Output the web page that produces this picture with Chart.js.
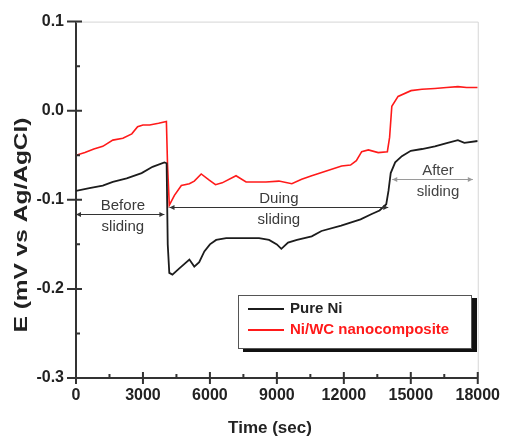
<!DOCTYPE html>
<html>
<head>
<meta charset="utf-8">
<script src="https://cdn.jsdelivr.net/npm/chart.js@4/dist/chart.umd.min.js"></script>
<style>
  body { margin: 0; background: #fff; }
  #wrap { width: 508px; height: 441px; position: relative; }
</style>
</head>
<body>
<div id="wrap"><canvas id="potChart"></canvas></div>
<script>
// Pure Ni (black)
const niTime = [0, 600, 1200, 1650, 2270, 2940, 3430, 3960, 4060, 4110, 4180, 4320, 4630, 5080, 5300, 5520, 5750, 6000, 6280, 6730, 7620, 8200, 8650, 9000, 9200, 9500, 9900, 10560, 11000, 11880, 12750, 13250, 13600, 13900, 14000, 14100, 14300, 14600, 15000, 15500, 16080, 16650, 17110, 17400, 18000];
const niE = [-0.090, -0.087, -0.084, -0.080, -0.076, -0.070, -0.063, -0.058, -0.059, -0.150, -0.182, -0.184, -0.177, -0.167, -0.175, -0.170, -0.158, -0.150, -0.145, -0.143, -0.143, -0.143, -0.145, -0.150, -0.155, -0.148, -0.145, -0.141, -0.135, -0.129, -0.122, -0.116, -0.112, -0.105, -0.090, -0.070, -0.058, -0.051, -0.045, -0.043, -0.040, -0.036, -0.033, -0.036, -0.034];

// Ni/WC nanocomposite (red)
const compTime = [0, 400, 800, 1200, 1650, 2100, 2500, 2760, 3000, 3300, 3700, 4050, 4100, 4180, 4410, 4720, 5080, 5300, 5610, 5970, 6250, 6550, 7170, 7620, 8510, 9090, 9670, 10110, 10560, 11180, 11900, 12300, 12560, 12800, 13100, 13540, 13950, 14050, 14150, 14430, 15010, 15500, 16080, 16600, 17110, 17500, 18000];
const compE = [-0.050, -0.047, -0.043, -0.040, -0.033, -0.031, -0.026, -0.018, -0.016, -0.016, -0.014, -0.012, -0.060, -0.106, -0.095, -0.084, -0.082, -0.079, -0.071, -0.078, -0.083, -0.081, -0.073, -0.080, -0.080, -0.079, -0.082, -0.077, -0.073, -0.068, -0.062, -0.061, -0.056, -0.046, -0.044, -0.047, -0.046, -0.030, 0.005, 0.016, 0.0225, 0.024, 0.025, 0.026, 0.027, 0.026, 0.026];

const seriesNames = ['Pure Ni', 'Ni/WC nanocomposite'];

// axis ticks
const xMin = 0, xMax = 18000, xStep = 3000;
const yMin = -0.3, yMax = 0.1, yStep = 0.1;

// phase arrows (data coords) and their labels
const phaseText = [['Before', 'sliding'], ['Duing', 'sliding'], ['After', 'sliding']];
const phaseFrom = [0, 4190, 14170];
const phaseTo = [3960, 13990, 17780];
const phaseLevel = [-0.116, -0.108, -0.077];
const phaseTextX = [2100, 9090, 16220];

const FONT = '"Liberation Sans", Arial, sans-serif';

function toPoints(xs, ys) {
    return xs.map((x, i) => ({x: x, y: ys[i]}));
}

const decor = {
    id: 'decor',
    afterDatasetsDraw(chart) {
        const ctx = chart.ctx;
        const a = chart.chartArea;
        const sx = chart.scales.x, sy = chart.scales.y;
        ctx.save();

        // light frame top/right
        ctx.strokeStyle = '#d6d6d6';
        ctx.lineWidth = 1;
        ctx.beginPath();
        ctx.moveTo(a.left, a.top + 0.5);
        ctx.lineTo(a.right + 0.5, a.top + 0.5);
        ctx.lineTo(a.right + 0.5, a.bottom);
        ctx.stroke();

        // tick marks
        ctx.strokeStyle = '#333';
        ctx.lineWidth = 2;
        ctx.beginPath();
        for (let v = xMin; v <= xMax; v += xStep) {
            const px = sx.getPixelForValue(v);
            ctx.moveTo(px, a.bottom - 6);
            ctx.lineTo(px, a.bottom + 6);
            if (v + xStep / 2 < xMax) {
                const pm = sx.getPixelForValue(v + xStep / 2);
                ctx.moveTo(pm, a.bottom - 4);
                ctx.lineTo(pm, a.bottom);
            }
        }
        for (let k = 0; k <= Math.round((yMax - yMin) / yStep); k++) {
            const v = yMin + k * yStep;
            const py = sy.getPixelForValue(v);
            ctx.moveTo(a.left - 9, py);
            ctx.lineTo(a.left + 6, py);
            if (v + yStep / 2 < yMax) {
                const pm = sy.getPixelForValue(v + yStep / 2);
                ctx.moveTo(a.left, pm);
                ctx.lineTo(a.left + 4, pm);
            }
        }
        ctx.stroke();

        // phase arrows
        ctx.font = '15px ' + FONT;
        ctx.textAlign = 'center';
        ctx.textBaseline = 'middle';
        for (let i = 0; i < phaseText.length; i++) {
            const x1 = sx.getPixelForValue(phaseFrom[i]);
            const x2 = sx.getPixelForValue(phaseTo[i]);
            const py = Math.round(sy.getPixelForValue(phaseLevel[i])) + 0.5;
            const col = i === 2 ? '#9a9a9a' : '#333';
            ctx.strokeStyle = col;
            ctx.fillStyle = col;
            ctx.lineWidth = 1;
            ctx.beginPath();
            ctx.moveTo(x1, py);
            ctx.lineTo(x2, py);
            ctx.stroke();
            [[x1, 1], [x2, -1]].forEach(([x, d]) => {
                ctx.beginPath();
                ctx.moveTo(x, py);
                ctx.lineTo(x + d * 5, py - 2.5);
                ctx.lineTo(x + d * 5, py + 2.5);
                ctx.closePath();
                ctx.fill();
            });
            const tx = sx.getPixelForValue(phaseTextX[i]);
            ctx.fillStyle = i === 2 ? '#444' : '#3a3a3a';
            ctx.fillText(phaseText[i][0], tx, py - 9);
            ctx.fillText(phaseText[i][1], tx, py + 12);
        }

        // legend box
        ctx.fillStyle = '#111';
        ctx.fillRect(471, 298, 6, 54);
        ctx.fillRect(243, 348, 234, 4);
        ctx.fillStyle = '#fff';
        ctx.fillRect(238, 295, 233, 53);
        ctx.strokeStyle = '#555';
        ctx.lineWidth = 1;
        ctx.strokeRect(238.5, 295.5, 233, 53);
        const ds = chart.data.datasets;
        ctx.font = 'bold 15px ' + FONT;
        ctx.textAlign = 'left';
        [309, 330].forEach((ly, i) => {
            ctx.strokeStyle = ds[i].borderColor;
            ctx.lineWidth = 2;
            ctx.beginPath();
            ctx.moveTo(248, ly);
            ctx.lineTo(284, ly);
            ctx.stroke();
            ctx.fillStyle = i === 0 ? '#222' : '#ff1a1a';
            ctx.fillText(ds[i].label, 290, ly);
        });

        // axis titles
        ctx.fillStyle = '#222';
        ctx.textAlign = 'center';
        ctx.font = 'bold 17px ' + FONT;
        ctx.fillText('Time (sec)', 270, 428);
        ctx.font = 'bold 19px ' + FONT;
        const yt = 'E (mV vs Ag/AgCl)';
        const w = ctx.measureText(yt).width;
        ctx.translate(22, 225);
        ctx.rotate(-Math.PI / 2);
        ctx.scale(215 / w, 1);
        ctx.fillText(yt, 0, 0);
        ctx.restore();
    }
};

const ctx = document.getElementById('potChart').getContext('2d');
const potChart = new Chart(ctx, {
    type: 'line',
    data: {
        datasets: [{
            label: seriesNames[0],
            data: toPoints(niTime, niE),
            borderColor: '#1c1c1c',
            borderWidth: 1.8
        }, {
            label: seriesNames[1],
            data: toPoints(compTime, compE),
            borderColor: '#ff1a1a',
            borderWidth: 1.6
        }]
    },
    options: {
        responsive: true,
        maintainAspectRatio: false,
        devicePixelRatio: 1,
        animation: false,
        layout: { padding: { top: 17, right: 28, left: 0, bottom: 0 } },
        elements: { point: { radius: 0 }, line: { tension: 0 } },
        plugins: { legend: { display: false }, tooltip: { enabled: false } },
        scales: {
            x: {
                type: 'linear',
                min: xMin,
                max: xMax,
                afterFit: (s) => { s.height = 63; },
                grid: { display: false, drawTicks: false },
                border: { display: true, color: '#333', width: 2 },
                ticks: {
                    stepSize: xStep,
                    padding: 8,
                    color: '#222',
                    font: { family: FONT, size: 16, weight: 'bold' },
                    maxRotation: 0,
                    callback: (v) => String(v)
                }
            },
            y: {
                min: yMin,
                max: yMax,
                afterFit: (s) => { s.width = 76; },
                grid: { display: false, drawTicks: false },
                border: { display: true, color: '#333', width: 2 },
                ticks: {
                    stepSize: yStep,
                    padding: 12,
                    color: '#222',
                    font: { family: FONT, size: 16, weight: 'bold' },
                    callback: (v) => Number(v).toFixed(1)
                }
            }
        }
    },
    plugins: [decor]
});
</script>
</body>
</html>
